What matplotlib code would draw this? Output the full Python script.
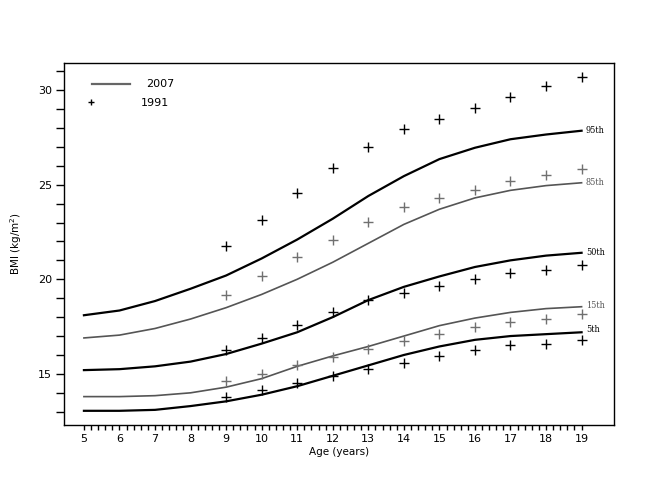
import numpy as np
import matplotlib
matplotlib.use("Agg")
from matplotlib import pyplot as plt
from matplotlib.ticker import FixedLocator

# 2007 reference curves (percentiles), ages 5..19
ages = [5, 6, 7, 8, 9, 10, 11, 12, 13, 14, 15, 16, 17, 18, 19]
p95_2007 = [18.1, 18.35, 18.85, 19.5, 20.2, 21.1, 22.1, 23.2, 24.4, 25.45, 26.35, 26.95, 27.4, 27.65, 27.85]
p85_2007 = [16.9, 17.05, 17.4, 17.9, 18.5, 19.2, 20.0, 20.9, 21.9, 22.9, 23.7, 24.3, 24.7, 24.95, 25.1]
p50_2007 = [15.2, 15.25, 15.4, 15.65, 16.05, 16.6, 17.2, 18.0, 18.9, 19.6, 20.15, 20.65, 21.0, 21.25, 21.4]
p15_2007 = [13.8, 13.8, 13.85, 14.0, 14.3, 14.75, 15.4, 15.95, 16.45, 17.0, 17.55, 17.95, 18.25, 18.45, 18.55]
p5_2007 = [13.05, 13.05, 13.1, 13.3, 13.55, 13.9, 14.35, 14.9, 15.45, 16.0, 16.45, 16.8, 17.0, 17.1, 17.2]

# 1991 values, ages 9..19
ages91 = [9, 10, 11, 12, 13, 14, 15, 16, 17, 18, 19]
p95_1991 = [21.75, 23.15, 24.55, 25.9, 27.0, 27.95, 28.45, 29.05, 29.65, 30.2, 30.7]
p85_1991 = [19.15, 20.15, 21.18, 22.1, 23.03, 23.83, 24.27, 24.71, 25.2, 25.5, 25.82]
p50_1991 = [16.28, 16.91, 17.6, 18.27, 18.89, 19.28, 19.65, 20.04, 20.33, 20.51, 20.74]
p15_1991 = [14.6, 15.01, 15.45, 15.89, 16.33, 16.74, 17.09, 17.48, 17.74, 17.92, 18.15]
p5_1991 = [13.77, 14.16, 14.51, 14.87, 15.27, 15.57, 15.93, 16.28, 16.51, 16.6, 16.81]

labels = ["95th", "85th", "50th", "15th", "5th"]

black = "#000000"
gray = "#555555"
gray_cross = "#707070"

fig = plt.figure(figsize=(6.5, 5.01), dpi=100)
ax = fig.add_axes([0.0985, 0.1517, 0.846, 0.7226])

curves = [p95_2007, p85_2007, p50_2007, p15_2007, p5_2007]
points = [p95_1991, p85_1991, p50_1991, p15_1991, p5_1991]
line_cols = [black, gray, black, gray, black]
cross_cols = [black, gray_cross, black, gray_cross, black]
widths = [1.6, 1.2, 1.6, 1.2, 1.6]
label_dy = [0, 0, 0, 0.05, 0.12]

for c, p, lc, cc, w, lab, dy in zip(curves, points, line_cols, cross_cols, widths, labels, label_dy):
    ax.plot(ages, c, color=lc, lw=w)
    ax.plot(ages91, p, ls="none", marker="+", ms=7, mew=1, color=cc)
    ax.text(ages[-1] + 0.12, c[-1] + dy, lab, fontsize=6.5, family="DejaVu Serif",
            color=lc, ha="left", va="center", fontstretch="condensed")

# legend drawn by hand in axes coords
ax.plot([0.05, 0.12], [0.943, 0.943], transform=ax.transAxes, color="#666666", lw=1.6)
ax.text(0.15, 0.943, "2007", transform=ax.transAxes, fontsize=8, va="center")
ax.plot([0.049], [0.893], transform=ax.transAxes, marker="+", ms=5, mew=1, color=black)
ax.text(0.14, 0.89, "1991", transform=ax.transAxes, fontsize=8, va="center")

ax.set_xlim(4.44, 19.91)
ax.set_ylim(12.3, 31.43)

ax.xaxis.set_major_locator(FixedLocator(range(5, 20)))
ax.xaxis.set_minor_locator(FixedLocator(np.arange(5, 19.01, 0.2)))
ax.yaxis.set_major_locator(FixedLocator([15, 20, 25, 30]))
ax.yaxis.set_minor_locator(FixedLocator(range(13, 32)))
ax.tick_params(axis="x", which="both", direction="out", length=3.5, width=1, labelsize=8, pad=3)
ax.tick_params(axis="y", which="both", direction="out", length=5.5, width=1, labelsize=8, pad=3)

for s in ax.spines.values():
    s.set_linewidth(1.0)

ax.set_xlabel("Age (years)", fontsize=7.5, labelpad=2)
ax.set_ylabel("BMI (kg/m$^2$)", fontsize=7.5, labelpad=10)

fig.savefig("out.png", dpi=100)
